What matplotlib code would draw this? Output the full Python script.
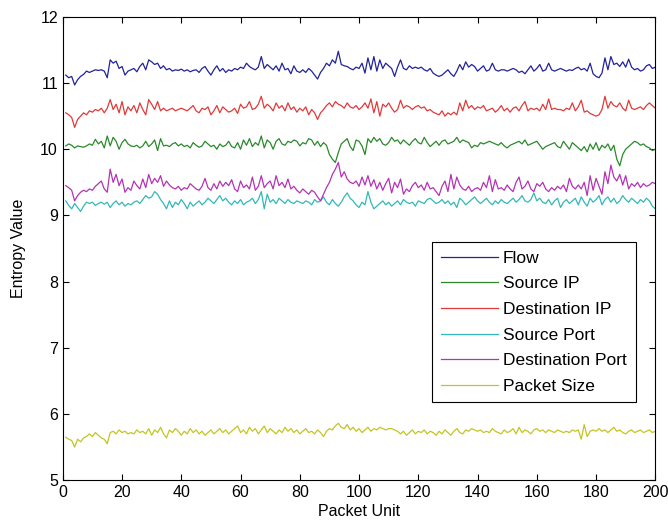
import numpy as np
import matplotlib.pyplot as plt

plt.rcParams['font.family'] = ['Liberation Sans', 'DejaVu Sans']

# entropy per packet unit (x = 1..200)
flow = [
    11.12, 11.08, 11.10, 10.97, 11.05, 11.10, 11.13, 11.18, 11.16, 11.18, 11.20, 11.19, 11.20, 11.18, 11.08, 11.35, 11.30, 11.33, 11.22, 11.25,
    11.12, 11.18, 11.20, 11.22, 11.17, 11.25, 11.30, 11.20, 11.35, 11.32, 11.28, 11.30, 11.22, 11.26, 11.20, 11.22, 11.18, 11.20, 11.19, 11.21,
    11.18, 11.20, 11.17, 11.19, 11.20, 11.16, 11.22, 11.25, 11.18, 11.12, 11.20, 11.26, 11.18, 11.22, 11.16, 11.20, 11.18, 11.22, 11.20, 11.24,
    11.22, 11.30, 11.25, 11.22, 11.20, 11.24, 11.40, 11.22, 11.28, 11.24, 11.20, 11.26, 11.18, 11.30, 11.20, 11.22, 11.14, 11.26, 11.18, 11.16,
    11.20, 11.16, 11.22, 11.18, 11.12, 11.06, 11.16, 11.22, 11.30, 11.26, 11.35, 11.30, 11.48, 11.28, 11.26, 11.25, 11.22, 11.20, 11.24, 11.22,
    11.30, 11.15, 11.38, 11.20, 11.40, 11.18, 11.35, 11.22, 11.30, 11.26, 11.22, 11.10, 11.24, 11.35, 11.22, 11.20, 11.26, 11.22, 11.24, 11.22,
    11.24, 11.20, 11.18, 11.22, 11.15, 11.12, 11.10, 11.12, 11.16, 11.20, 11.14, 11.10, 11.18, 11.28, 11.20, 11.32, 11.24, 11.28, 11.25, 11.18,
    11.22, 11.26, 11.18, 11.20, 11.30, 11.20, 11.18, 11.20, 11.20, 11.18, 11.20, 11.22, 11.20, 11.16, 11.18, 11.14, 11.20, 11.26, 11.18, 11.22,
    11.28, 11.18, 11.20, 11.30, 11.20, 11.18, 11.20, 11.22, 11.20, 11.18, 11.20, 11.19, 11.22, 11.24, 11.20, 11.22, 11.18, 11.30, 11.14, 11.10,
    11.08, 11.15, 11.38, 11.20, 11.40, 11.28, 11.30, 11.25, 11.32, 11.24, 11.36, 11.24, 11.20, 11.22, 11.18, 11.20, 11.26, 11.28, 11.22, 11.24,
]

source_ip = [
    10.05, 10.08, 10.06, 10.02, 10.05, 10.04, 10.03, 10.05, 10.08, 10.06, 10.15, 10.08, 10.12, 10.02, 10.20, 10.05, 10.18, 10.12, 10.00, 10.10,
    10.15, 10.08, 10.05, 10.04, 10.06, 10.02, 10.05, 10.12, 10.04, 10.08, 10.14, 9.98, 10.16, 10.05, 10.06, 10.04, 10.08, 10.10, 10.05, 10.08,
    10.04, 10.06, 10.02, 10.10, 10.06, 10.03, 10.05, 10.12, 10.08, 10.04, 10.06, 10.00, 10.08, 10.04, 10.06, 10.12, 10.04, 10.02, 10.10, 10.00,
    10.14, 10.06, 10.16, 10.04, 10.10, 10.06, 10.20, 10.02, 10.14, 10.10, 10.00, 10.12, 10.16, 10.08, 10.06, 10.12, 10.10, 10.14, 10.12, 10.05,
    10.10, 10.08, 10.16, 10.14, 10.06, 10.12, 10.04, 10.10, 10.06, 9.92, 9.85, 9.80, 9.95, 10.08, 10.12, 10.16, 10.04, 9.98, 10.14, 10.12,
    10.05, 9.92, 10.16, 10.10, 10.18, 10.12, 10.16, 10.08, 10.06, 10.10, 10.18, 10.12, 10.14, 10.08, 10.14, 10.10, 10.06, 10.12, 10.16, 10.10,
    10.08, 10.18, 10.10, 10.04, 10.08, 10.12, 10.06, 10.12, 10.14, 10.08, 10.10, 10.12, 10.18, 10.10, 10.14, 10.12, 10.10, 10.02, 10.06, 10.04,
    10.10, 10.08, 10.10, 10.12, 10.10, 10.08, 10.06, 10.10, 10.05, 10.02, 10.06, 10.08, 10.10, 10.12, 10.08, 10.14, 10.06, 10.08, 10.10, 10.12,
    10.06, 10.00, 10.04, 10.06, 10.08, 10.10, 10.04, 10.02, 10.12, 10.06, 10.00, 10.10, 10.06, 10.02, 9.98, 10.04, 9.96, 10.08, 10.00, 10.10,
    9.98, 10.06, 10.02, 10.08, 9.98, 10.06, 9.85, 9.75, 9.92, 10.00, 10.04, 10.08, 10.12, 10.10, 10.06, 10.08, 10.04, 10.02, 9.98, 10.00,
]

dest_ip = [
    10.55, 10.52, 10.48, 10.33, 10.45, 10.50, 10.55, 10.52, 10.58, 10.56, 10.60, 10.58, 10.62, 10.55, 10.62, 10.75, 10.60, 10.68, 10.55, 10.72,
    10.52, 10.64, 10.58, 10.66, 10.55, 10.70, 10.60, 10.52, 10.75, 10.68, 10.60, 10.72, 10.58, 10.62, 10.58, 10.60, 10.62, 10.58, 10.60, 10.62,
    10.60, 10.58, 10.62, 10.66, 10.58, 10.55, 10.62, 10.60, 10.64, 10.52, 10.58, 10.66, 10.55, 10.64, 10.60, 10.56, 10.58, 10.62, 10.54, 10.68,
    10.62, 10.64, 10.72, 10.60, 10.62, 10.68, 10.80, 10.62, 10.68, 10.64, 10.58, 10.70, 10.62, 10.66, 10.58, 10.70, 10.60, 10.64, 10.56, 10.62,
    10.58, 10.64, 10.52, 10.60, 10.55, 10.45, 10.55, 10.60, 10.66, 10.70, 10.64, 10.72, 10.68, 10.66, 10.62, 10.70, 10.64, 10.62, 10.66, 10.60,
    10.64, 10.70, 10.62, 10.76, 10.55, 10.72, 10.50, 10.68, 10.64, 10.70, 10.62, 10.56, 10.60, 10.74, 10.62, 10.66, 10.64, 10.60, 10.64, 10.66,
    10.62, 10.64, 10.58, 10.60, 10.56, 10.54, 10.52, 10.58, 10.50, 10.55, 10.52, 10.56, 10.52, 10.70, 10.58, 10.74, 10.62, 10.66, 10.60, 10.64,
    10.62, 10.66, 10.58, 10.60, 10.62, 10.56, 10.60, 10.66, 10.58, 10.62, 10.56, 10.62, 10.64, 10.58, 10.66, 10.72, 10.58, 10.62, 10.60, 10.62,
    10.58, 10.68, 10.60, 10.76, 10.60, 10.62, 10.60, 10.60, 10.58, 10.62, 10.60, 10.70, 10.58, 10.64, 10.74, 10.56, 10.58, 10.54, 10.52, 10.50,
    10.52, 10.60, 10.80, 10.62, 10.72, 10.66, 10.64, 10.70, 10.62, 10.58, 10.74, 10.62, 10.60, 10.62, 10.64, 10.60, 10.66, 10.70, 10.66, 10.62,
]

source_port = [
    9.22, 9.15, 9.10, 9.18, 9.12, 9.06, 9.14, 9.20, 9.18, 9.20, 9.15, 9.18, 9.20, 9.17, 9.20, 9.12, 9.18, 9.22, 9.16, 9.20,
    9.14, 9.18, 9.16, 9.20, 9.22, 9.18, 9.24, 9.30, 9.26, 9.28, 9.36, 9.32, 9.24, 9.18, 9.10, 9.22, 9.12, 9.20, 9.16, 9.24,
    9.18, 9.10, 9.20, 9.14, 9.18, 9.22, 9.16, 9.20, 9.26, 9.22, 9.18, 9.24, 9.30, 9.22, 9.26, 9.20, 9.16, 9.22, 9.18, 9.24,
    9.16, 9.20, 9.22, 9.26, 9.18, 9.24, 9.36, 9.10, 9.32, 9.20, 9.24, 9.18, 9.26, 9.22, 9.18, 9.24, 9.20, 9.18, 9.22, 9.20,
    9.18, 9.22, 9.20, 9.16, 9.24, 9.20, 9.22, 9.28, 9.20, 9.16, 9.24, 9.18, 9.14, 9.20, 9.28, 9.34, 9.26, 9.22, 9.16, 9.12,
    9.20, 9.16, 9.36, 9.20, 9.10, 9.14, 9.18, 9.22, 9.16, 9.20, 9.14, 9.18, 9.22, 9.16, 9.24, 9.20, 9.18, 9.20, 9.14, 9.22,
    9.20, 9.18, 9.24, 9.26, 9.22, 9.18, 9.20, 9.24, 9.18, 9.22, 9.16, 9.20, 9.12, 9.26, 9.22, 9.16, 9.20, 9.24, 9.28, 9.22,
    9.18, 9.22, 9.26, 9.20, 9.16, 9.22, 9.18, 9.24, 9.20, 9.18, 9.22, 9.26, 9.20, 9.24, 9.30, 9.22, 9.20, 9.24, 9.34, 9.22,
    9.26, 9.20, 9.18, 9.24, 9.16, 9.22, 9.26, 9.12, 9.20, 9.24, 9.18, 9.22, 9.26, 9.16, 9.28, 9.20, 9.14, 9.26, 9.20, 9.24,
    9.30, 9.16, 9.24, 9.28, 9.20, 9.26, 9.18, 9.22, 9.30, 9.24, 9.20, 9.26, 9.22, 9.18, 9.24, 9.20, 9.26, 9.22, 9.14, 9.10,
]

dest_port = [
    9.45, 9.42, 9.38, 9.22, 9.30, 9.35, 9.38, 9.36, 9.40, 9.38, 9.44, 9.48, 9.52, 9.40, 9.35, 9.70, 9.50, 9.62, 9.45, 9.55,
    9.35, 9.42, 9.38, 9.52, 9.45, 9.40, 9.55, 9.42, 9.62, 9.48, 9.56, 9.50, 9.60, 9.44, 9.52, 9.46, 9.42, 9.40, 9.44, 9.38,
    9.42, 9.40, 9.48, 9.44, 9.40, 9.38, 9.44, 9.56, 9.42, 9.38, 9.48, 9.40, 9.52, 9.44, 9.50, 9.45, 9.54, 9.40, 9.36, 9.52,
    9.42, 9.46, 9.40, 9.58, 9.38, 9.44, 9.60, 9.42, 9.48, 9.52, 9.40, 9.60, 9.45, 9.50, 9.42, 9.55, 9.40, 9.44, 9.38, 9.34,
    9.40, 9.36, 9.32, 9.38, 9.35, 9.28, 9.22, 9.32, 9.42, 9.50, 9.62, 9.70, 9.80, 9.58, 9.66, 9.55, 9.50, 9.48, 9.52, 9.44,
    9.58, 9.46, 9.60, 9.44, 9.54, 9.40, 9.50, 9.38, 9.48, 9.56, 9.34, 9.50, 9.42, 9.55, 9.32, 9.40, 9.36, 9.45, 9.50, 9.42,
    9.46, 9.38, 9.50, 9.40, 9.42, 9.36, 9.30, 9.44, 9.52, 9.36, 9.62, 9.40, 9.58, 9.46, 9.40, 9.38, 9.44, 9.36, 9.40, 9.42,
    9.38, 9.50, 9.42, 9.60, 9.36, 9.54, 9.40, 9.42, 9.38, 9.46, 9.40, 9.36, 9.50, 9.58, 9.40, 9.44, 9.52, 9.40, 9.36, 9.48,
    9.44, 9.50, 9.40, 9.36, 9.42, 9.38, 9.44, 9.40, 9.46, 9.36, 9.56, 9.44, 9.40, 9.46, 9.40, 9.50, 9.30, 9.60, 9.38, 9.56,
    9.44, 9.32, 9.66, 9.48, 9.76, 9.58, 9.52, 9.62, 9.46, 9.60, 9.40, 9.48, 9.44, 9.50, 9.42, 9.48, 9.44, 9.46, 9.50, 9.48,
]

packet_size = [
    5.65, 5.62, 5.60, 5.50, 5.62, 5.58, 5.64, 5.66, 5.70, 5.66, 5.72, 5.68, 5.64, 5.62, 5.55, 5.72, 5.74, 5.70, 5.76, 5.72,
    5.74, 5.70, 5.72, 5.70, 5.76, 5.72, 5.74, 5.70, 5.78, 5.68, 5.76, 5.72, 5.80, 5.70, 5.64, 5.76, 5.72, 5.78, 5.74, 5.68,
    5.74, 5.70, 5.78, 5.72, 5.76, 5.70, 5.74, 5.68, 5.72, 5.76, 5.70, 5.74, 5.78, 5.72, 5.76, 5.70, 5.74, 5.78, 5.82, 5.72,
    5.76, 5.70, 5.80, 5.74, 5.78, 5.70, 5.76, 5.82, 5.72, 5.78, 5.74, 5.70, 5.76, 5.72, 5.80, 5.74, 5.78, 5.72, 5.76, 5.70,
    5.74, 5.78, 5.72, 5.74, 5.70, 5.76, 5.72, 5.66, 5.74, 5.78, 5.76, 5.82, 5.86, 5.80, 5.78, 5.84, 5.76, 5.80, 5.74, 5.78,
    5.72, 5.76, 5.80, 5.74, 5.78, 5.76, 5.80, 5.78, 5.76, 5.78, 5.78, 5.76, 5.74, 5.70, 5.74, 5.68, 5.72, 5.76, 5.70, 5.74,
    5.72, 5.76, 5.70, 5.74, 5.72, 5.68, 5.74, 5.70, 5.76, 5.72, 5.68, 5.74, 5.78, 5.72, 5.70, 5.76, 5.74, 5.78, 5.76, 5.74,
    5.76, 5.72, 5.74, 5.72, 5.78, 5.74, 5.72, 5.70, 5.76, 5.72, 5.74, 5.78, 5.70, 5.80, 5.72, 5.76, 5.74, 5.70, 5.76, 5.78,
    5.74, 5.76, 5.72, 5.76, 5.74, 5.72, 5.76, 5.74, 5.72, 5.74, 5.72, 5.76, 5.74, 5.76, 5.62, 5.84, 5.66, 5.74, 5.76, 5.74,
    5.78, 5.74, 5.76, 5.72, 5.76, 5.80, 5.74, 5.76, 5.72, 5.70, 5.74, 5.76, 5.72, 5.74, 5.76, 5.72, 5.74, 5.76, 5.72, 5.74,
]

labels = ['Flow', 'Source IP', 'Destination IP', 'Source Port', 'Destination Port', 'Packet Size']
colors = ['#22229a', '#2a8a2a', '#e03a3a', '#33b8b8', '#b433b4', '#c4c424']
series = [flow, source_ip, dest_ip, source_port, dest_port, packet_size]

x = np.arange(1, len(flow) + 1)

fig = plt.figure(figsize=(6.68, 5.26), dpi=100)
ax = fig.add_axes([0.094, 0.087, 0.887, 0.881])

for s, c, lab in zip(series, colors, labels):
    ax.plot(x, s, color=c, lw=0.9, label=lab)

ax.set_xlim(0, 200)
ax.set_ylim(5, 12)
ax.set_xticks(np.arange(0, 201, 20))
ax.set_yticks(np.arange(5, 13, 1))
ax.tick_params(direction='in', top=True, right=True, length=4, width=0.8, labelsize=11.5)
for sp in ax.spines.values():
    sp.set_linewidth(0.8)

ax.set_xlabel('Packet Unit', fontsize=11.5, labelpad=3)
ax.set_ylabel('Entropy Value', fontsize=11.5, labelpad=10)

leg = ax.legend(loc='upper left', bbox_to_anchor=(0.623, 0.514), borderaxespad=0,
                fontsize=12.5, handlelength=3.3, handletextpad=0.3, labelspacing=0.6,
                borderpad=0.5, fancybox=False, framealpha=1, edgecolor='black')
leg.get_frame().set_linewidth(0.8)

fig.savefig('out.png', dpi=100)
